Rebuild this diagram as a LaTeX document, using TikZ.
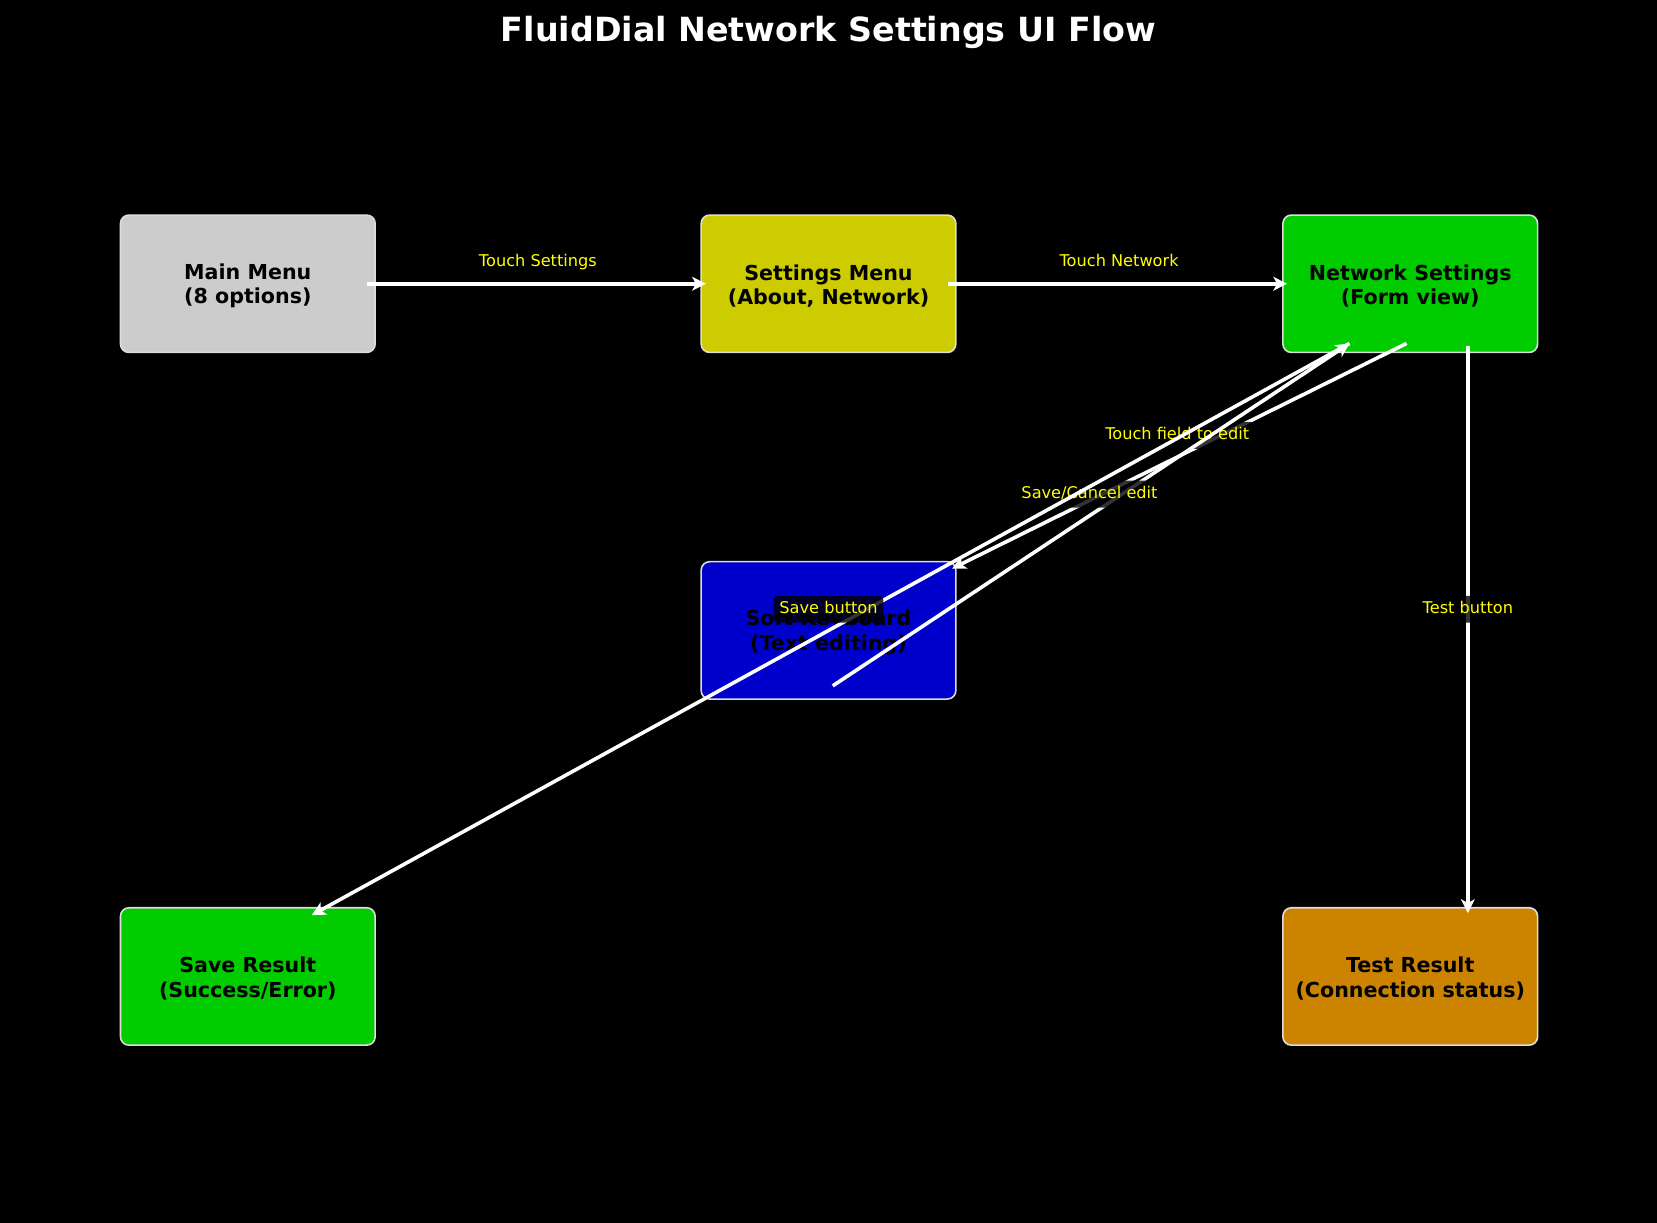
\documentclass[tikz,border=0pt]{standalone}
\usepackage{fontspec}
\setmainfont{DejaVu Sans}
\usetikzlibrary{arrows.meta}
\definecolor{edgegray}{RGB}{221,221,221}
\definecolor{mmfill}{HTML}{CCCCCC}
\definecolor{smfill}{HTML}{CCCC00}
\definecolor{gfill}{HTML}{00CC00}
\definecolor{bfill}{HTML}{0000CC}
\definecolor{ofill}{HTML}{CC8400}
\definecolor{labyellow}{HTML}{FFFF00}
\begin{document}
\begin{tikzpicture}[x=1pt,y=-1pt,
  box/.style={rounded corners=8pt, draw=edgegray, line width=1.5pt,
    minimum width=241pt, minimum height=130pt, inner sep=0pt, align=center,
    font=\fontsize{19.5}{23}\selectfont\bfseries, text=black},
  boxtext/.style={align=center, inner sep=0pt,
    font=\fontsize{19.5}{23}\selectfont\bfseries, text=black},
  flow/.style={draw=white, line width=3.4pt,
    -{Stealth[length=13pt,width=13pt,inset=3.5pt]}},
  lab/.style={fill=black, fill opacity=0.8, text opacity=1, text=labyellow,
    rounded corners=4pt, inner xsep=5.5pt, inner ysep=5pt,
    text height=12pt, text depth=3.5pt,
    font=\fontsize{15.3}{18}\selectfont}]
\fill[black] (0,0) rectangle (1568,1157);
\useasboundingbox (0,0) rectangle (1568,1157);

\node[text=white, font=\fontsize{31.5}{36}\selectfont\bfseries] (title) at (784,31) {FluidDial Network Settings UI Flow};

\node[box, fill=mmfill] (mm) at (234.5,268.5) {};
\node[box, fill=smfill] (sm) at (784,268.5) {};
\node[box, fill=gfill] (ns) at (1334.5,268.5) {};
\node[box, fill=bfill] (sk) at (784,596.5) {};
\node[box, fill=gfill] (sr) at (234.5,924) {};
\node[box, fill=ofill] (tr) at (1334.5,924) {};
\node[boxtext] (mmt) at ([yshift=-2pt]mm.center) {Main Menu\\(8 options)};
\node[boxtext] (smt) at ([yshift=-2pt]sm.center) {Settings Menu\\(About, Network)};
\node[boxtext] (nst) at ([yshift=-2pt]ns.center) {Network Settings\\(Form view)};
\node[boxtext] (skt) at ([yshift=-2pt]sk.center) {Soft Keyboard\\(Text editing)};
\node[boxtext] (srt) at ([yshift=-2pt]sr.center) {Save Result\\(Success/Error)};
\node[boxtext] (trt) at ([yshift=-2pt]tr.center) {Test Result\\(Connection status)};

\coordinate (mmR) at (347,268.5);
\coordinate (smL) at (668,268.5);
\coordinate (smR) at (897,268.5);
\coordinate (nsL) at (1218,268.5);
\coordinate (nsA) at (1277,325);
\coordinate (nsB) at (1331,325);
\coordinate (nsC) at (1389,327);
\coordinate (skT) at (901,538);
\coordinate (skS) at (788,649);
\coordinate (srT) at (295,866);
\coordinate (trT) at (1389,864);

\draw[flow] (mmR) -- (smL);
\node[lab] (l1) at (509,248) {Touch Settings};
\draw[flow] (smR) -- (nsL);
\node[lab] (l2) at (1059,248) {Touch Network};
\draw[flow] (nsB) -- (skT);
\node[lab] (l3) at (1114,412) {Touch field to edit};
\draw[flow] (skS) -- (nsA);
\node[lab] (l4) at (1031,467.5) {Save/Cancel edit};
\draw[flow] (nsA) -- (srT);
\node[lab] (l5) at (784,576.5) {Save button};
\draw[flow] (nsC) -- (trT);
\node[lab] (l6) at (1389,576.5) {Test button};
\end{tikzpicture}
\end{document}
